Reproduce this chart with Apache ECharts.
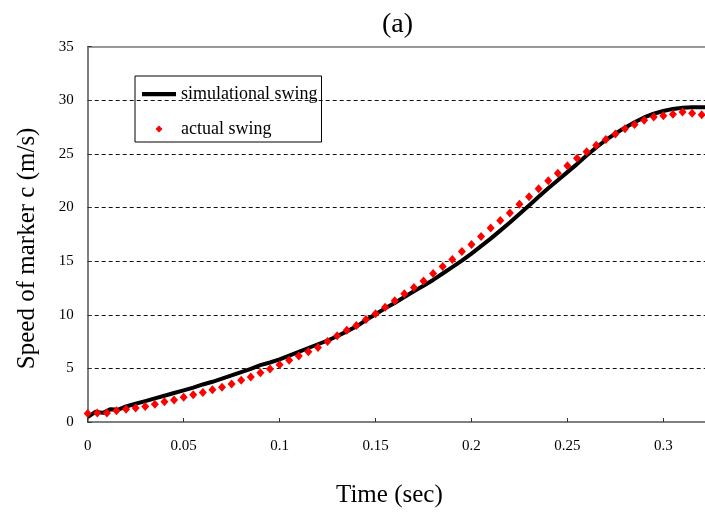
<!DOCTYPE html>
<html><head><meta charset="utf-8">
<script src="https://cdn.jsdelivr.net/npm/echarts@6/dist/echarts.min.js"></script>
<style>html,body{margin:0;padding:0;background:#fff}#c{width:705px;height:518px}</style>
</head><body><div id="c"></div>
<script>
var simTime = [0,0.004,0.008,0.012,0.016,0.02,0.025,0.03,0.035,0.04,0.045,0.05,0.055,0.06,0.065,0.07,0.075,0.08,0.085,0.09,0.095,0.1,0.105,0.11,0.115,0.12,0.125,0.13,0.135,0.14,0.145,0.15,0.155,0.16,0.165,0.17,0.175,0.18,0.185,0.19,0.195,0.2,0.205,0.21,0.215,0.22,0.225,0.23,0.235,0.24,0.245,0.25,0.255,0.26,0.265,0.27,0.275,0.28,0.285,0.29,0.295,0.3,0.305,0.31,0.315,0.322];
var simSpeed = [0.45,0.95,0.85,1.2,1.15,1.45,1.7,1.95,2.2,2.45,2.7,2.95,3.2,3.5,3.75,4.05,4.35,4.65,4.95,5.3,5.55,5.85,6.2,6.55,6.9,7.25,7.6,8.0,8.45,8.9,9.5,10.05,10.6,11.1,11.65,12.2,12.7,13.25,13.85,14.45,15.05,15.7,16.4,17.1,17.85,18.6,19.4,20.2,21.0,21.8,22.55,23.3,24.05,24.85,25.6,26.3,26.9,27.45,27.95,28.4,28.75,29.0,29.2,29.3,29.35,29.35];
var actTime = [0,0.005,0.01,0.015,0.02,0.025,0.03,0.035,0.04,0.045,0.05,0.055,0.06,0.065,0.07,0.075,0.08,0.085,0.09,0.095,0.1,0.105,0.11,0.115,0.12,0.125,0.13,0.135,0.14,0.145,0.15,0.155,0.16,0.165,0.17,0.175,0.18,0.185,0.19,0.195,0.2,0.205,0.21,0.215,0.22,0.225,0.23,0.235,0.24,0.245,0.25,0.255,0.26,0.265,0.27,0.275,0.28,0.285,0.29,0.295,0.3,0.305,0.31,0.315,0.32];
var actSpeed = [0.8,0.85,0.85,1.05,1.2,1.3,1.45,1.65,1.9,2.05,2.3,2.55,2.75,3.0,3.25,3.55,3.9,4.2,4.6,4.95,5.35,5.75,6.15,6.55,6.95,7.5,8.05,8.55,9.0,9.55,10.1,10.7,11.3,11.95,12.55,13.15,13.85,14.5,15.15,15.9,16.55,17.3,18.1,18.8,19.5,20.3,21.0,21.75,22.5,23.2,23.9,24.6,25.2,25.8,26.35,26.85,27.35,27.75,28.15,28.45,28.55,28.7,28.9,28.8,28.65];
var seriesNames = ['simulational swing', 'actual swing'];
var titleText = '(a)';
var xTitle = 'Time (sec)';
var yTitle = 'Speed of marker c (m/s)';

function pairs(xs, ys){ return xs.map(function(x,i){ return [x, ys[i]]; }); }

var serif = 'Liberation Serif, Times New Roman, serif';
var chart = echarts.init(document.getElementById('c'), null, {renderer:'canvas'});
chart.setOption({
  backgroundColor: '#ffffff',
  animation: false,
  title: {
    text: titleText, left: 377, top: 6,
    textStyle: {fontFamily: serif, fontSize: 28, fontWeight: 'normal', color: '#000'}
  },
  legend: {
    orient: 'vertical', left: 135, top: 76,
    padding: [9, 4, 4, 7], itemGap: 17,
    itemWidth: 34, itemHeight: 7,
    symbolKeepAspect: true,
    borderColor: '#000', borderWidth: 1,
    textStyle: {fontFamily: serif, fontSize: 18, color: '#000', lineHeight: 18},
    data: [
      {name: seriesNames[0], icon: 'path://M0,0H40V5H0Z', itemStyle: {color: '#000'}},
      {name: seriesNames[1], icon: 'path://M5,0L10,5L5,10L0,5Z', itemStyle: {color: '#ff0000'}}
    ]
  },
  grid: {left: 87.7, right: 0, top: 46.7, bottom: 96, containLabel: false},
  xAxis: [{
    type: 'value', min: 0, max: 0.3217, interval: 0.05,
    name: xTitle, nameLocation: 'middle', nameGap: 61,
    nameTextStyle: {fontFamily: serif, fontSize: 25, color: '#000', padding: [0, 14, 0, 0]},
    axisLine: {show: true, onZero: false, lineStyle: {color: '#555', width: 1.5}},
    axisTick: {show: true, inside: true, length: 4, lineStyle: {color: '#333'}},
    axisLabel: {fontFamily: serif, fontSize: 15, color: '#000', margin: 17, showMaxLabel: false,
      formatter: function(v){ var k = v/0.05; return Math.abs(k - Math.round(k)) < 1e-6 ? String(+v.toFixed(2)) : ''; }},
    splitLine: {show: false}
  }, {
    type: 'value', position: 'top', min: 0, max: 0.3217,
    axisLine: {show: true, onZero: false, lineStyle: {color: '#777', width: 1.5}},
    axisTick: {show: false}, axisLabel: {show: false}, splitLine: {show: false}
  }],
  yAxis: {
    type: 'value', min: 0, max: 35, interval: 5,
    name: yTitle, nameLocation: 'middle', nameGap: 48, nameRotate: 90,
    nameTextStyle: {fontFamily: serif, fontSize: 25, color: '#000', padding: [0, 28, 0, 0]},
    axisLine: {show: true, lineStyle: {color: '#555', width: 1.5}},
    axisTick: {show: true, inside: true, length: 4, lineStyle: {color: '#333'}},
    axisLabel: {fontFamily: serif, fontSize: 15, color: '#000', margin: 14},
    splitLine: {show: true, showMinLine: false, showMaxLine: false, lineStyle: {color: '#111', type: [4, 3], width: 1}}
  },
  series: [{
    name: seriesNames[0], type: 'line', data: pairs(simTime, simSpeed),
    symbol: 'none', smooth: false,
    lineStyle: {color: '#000', width: 4}, itemStyle: {color: '#000'}, z: 2
  }, {
    name: seriesNames[1], type: 'scatter', data: pairs(actTime, actSpeed),
    symbol: 'diamond', symbolSize: [8, 9],
    itemStyle: {color: '#ff0000', opacity: 1}, z: 3
  }]
});
</script>
</body></html>
